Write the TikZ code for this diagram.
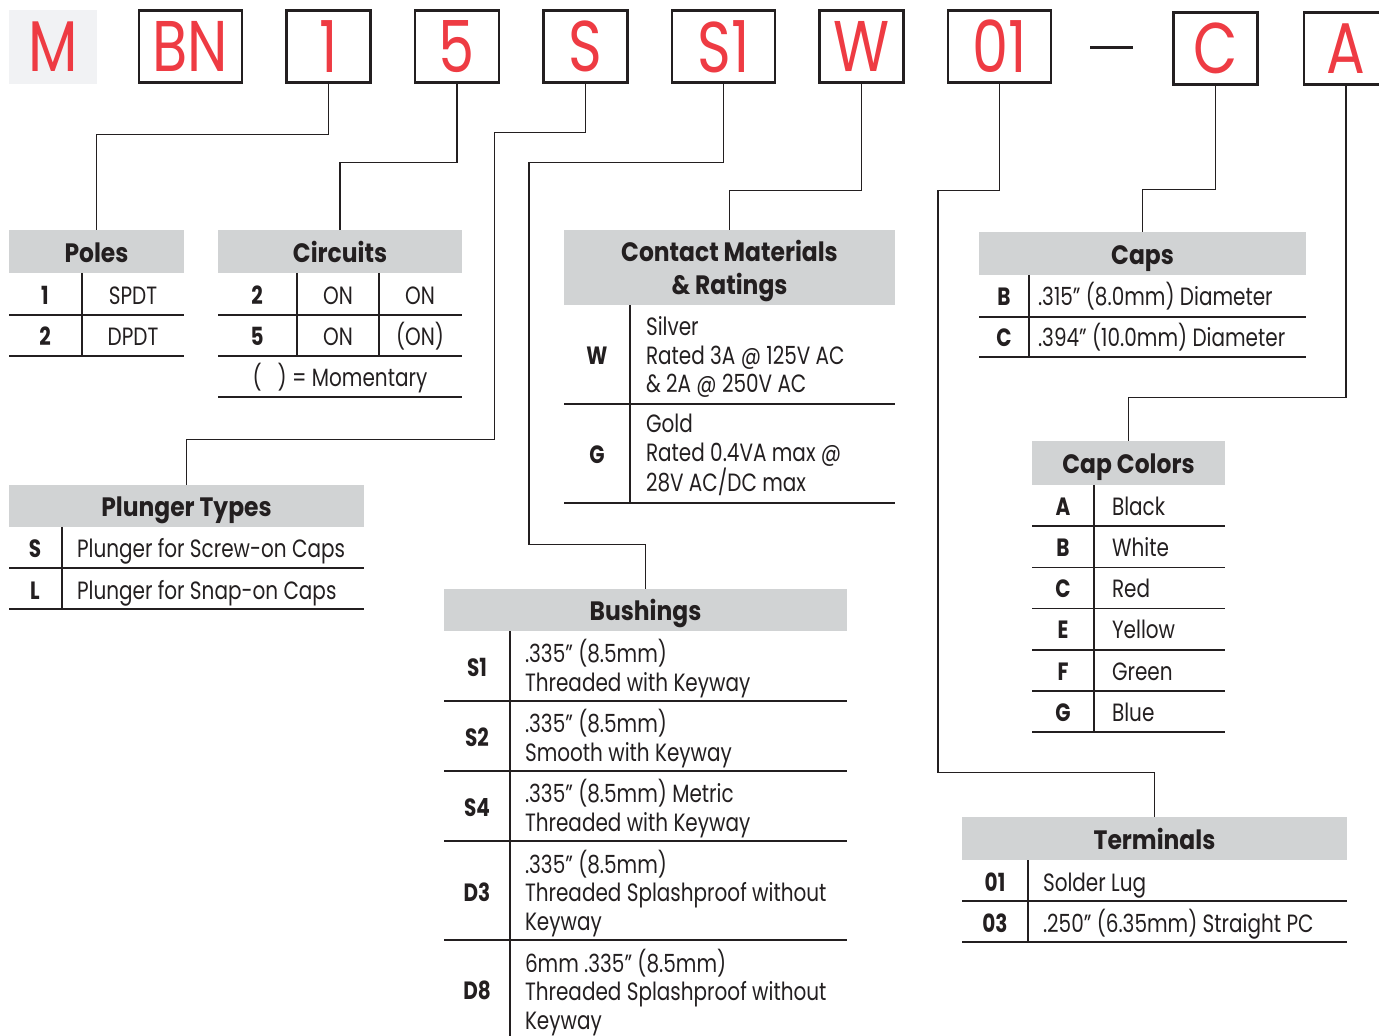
\documentclass[tikz,border=0pt]{standalone}
\usepackage{fontspec}
\setmainfont{Poppins}[FakeStretch=0.8]
\newfontfamily\headfont{Poppins}[FakeStretch=0.88]
\usetikzlibrary{positioning}
\definecolor{CodeRed}{RGB}{238,59,67}
\definecolor{HeadGray}{RGB}{209,211,212}
\definecolor{LightGray}{RGB}{241,242,244}
\definecolor{Ink}{RGB}{35,31,32}

\begin{document}
\begin{tikzpicture}[x=0.5pt, y=-0.5pt, Ink, text=Ink, line width=0.75pt,
       node distance=22.25pt,
       every node/.style={inner sep=0pt, outer sep=0pt},
       codebox/.style={draw=Ink, line width=1.3pt, minimum width=#1*0.5pt, minimum height=36pt,
                       text=CodeRed, font=\fontsize{35.9pt}{36pt}\selectfont},
       head/.style 2 args={fill=HeadGray, anchor=north west, minimum width=#1*0.5pt,
                           minimum height=#2*0.5pt, text height=10.6pt, text depth=0pt,
                           font=\headfont\bfseries\fontsize{13.3pt}{16.5pt}\selectfont},
       key/.style={anchor=base, font=\bfseries\fontsize{12.5pt}{14.25pt}\selectfont},
       mid/.style={anchor=base, font=\fontsize{12.5pt}{14.25pt}\selectfont},
       val/.style={anchor=base west, align=left, font=\fontsize{12.5pt}{14.25pt}\selectfont},
       rule/.style={line width=0.75pt}]
	\useasboundingbox (0,0) rectangle (1379,1036);

	%% Code boxes
	\node [fill=LightGray, minimum width=44pt, minimum height=37pt, text=CodeRed,
	       font=\fontsize{35.9pt}{36pt}\selectfont] (bM) at (53,47) {M};
	\node [codebox=103] (bBN) at (190.5,46.5) {BN};
	\node [codebox=84, right=of bBN] (b1) {1};
	\node [codebox=84, right=of b1] (b5) {5};
	\node [codebox=84, right=of b5] (bS) {S};
	\node [codebox=103, right=of bS] (bS1) {S1};
	\node [codebox=84, right=of bS1] (bW) {W};
	\node [codebox=103, right=of bW] (b01) {01};
	\draw [line width=1.5pt] (1090,48) -- (1133,48);
	\node [codebox=84] (bC) at (1215.5,48.5) {C};
	\node [codebox=84, right=23.25pt of bC] (bA) {A};

	%% Poles
	\node [head={175}{43}] (poles) at (9,230) {Poles};
	\draw [rule] (9,315) -- (184,315) (9,356) -- (184,356) (82,273) -- (82,356);
	\node [key] (pk1) at (45,305) {1};  \node [mid] (pv1) at (133,305) {SPDT};
	\node [key] (pk2) at (45,346) {2};  \node [mid] (pv2) at (133,346) {DPDT};

	%% Circuits
	\node [head={244}{43}] (circ) at (218,230) {Circuits};
	\draw [rule] (218,315) -- (462,315) (218,356) -- (462,356) (218,397) -- (462,397)
	             (297,273) -- (297,356) (379,273) -- (379,356);
	\node [key] (ck1) at (257,305) {2};  \node [mid] (ca1) at (338,305) {ON};  \node [mid] (cb1) at (420,305) {ON};
	\node [key] (ck2) at (257,346) {5};  \node [mid] (ca2) at (338,346) {ON};  \node [mid] (cb2) at (420,346) {(ON)};
	\node [mid] (cnote) at (340,387) {(\hspace{8pt}) = Momentary};

	%% Contact materials
	\node [head={331}{75}, text height={}, align=center] (contact) at (564,230) {Contact Materials\\\& Ratings};
	\draw [rule] (564,404) -- (895,404) (564,503) -- (895,503) (630,305) -- (630,503);
	\node [key] (mk1) at (597,365) {W};
	\node [val] (mv1) at (646,393) {Silver\\Rated 3A @ 125V AC\\\& 2A @ 250V AC};
	\node [key] (mk2) at (597,464) {G};
	\node [val] (mv2) at (646,492) {Gold\\Rated 0.4VA max @\\28V AC/DC max};

	%% Caps
	\node [head={327}{43}] (caps) at (979,232) {Caps};
	\draw [rule] (979,317) -- (1306,317) (979,357) -- (1306,357) (1029,275) -- (1029,357);
	\node [key] (sk1) at (1004,306) {B};  \node [val] (sv1) at (1038,306) {.315” (8.0mm) Diameter};
	\node [key] (sk2) at (1004,347) {C};  \node [val] (sv2) at (1038,347) {.394” (10.0mm) Diameter};

	%% Plunger types
	\node [head={355}{42}] (plunger) at (9,485) {Plunger Types};
	\draw [rule] (9,568) -- (364,568) (9,609) -- (364,609) (62,527) -- (62,609);
	\node [key] (lk1) at (35,558) {S};  \node [val] (lv1) at (77,558) {Plunger for Screw-on Caps};
	\node [key] (lk2) at (35,599) {L};  \node [val] (lv2) at (77,599) {Plunger for Snap-on Caps};

	%% Bushings
	\node [head={403}{42}] (bush) at (444,589) {Bushings};
	\draw [rule] (444,701) -- (847,701) (444,771) -- (847,771) (444,841) -- (847,841)
	             (444,940) -- (847,940) (510,631) -- (510,1036);
	\node [key] (uk1) at (477,676) {S1};
	\node [val] (uv1) at (525,691) {.335” (8.5mm)\\Threaded with Keyway};
	\node [key] (uk2) at (477,746) {S2};
	\node [val] (uv2) at (525,761) {.335” (8.5mm)\\Smooth with Keyway};
	\node [key] (uk3) at (477,816) {S4};
	\node [val] (uv3) at (525,831) {.335” (8.5mm) Metric\\Threaded with Keyway};
	\node [key] (uk4) at (477,901) {D3};
	\node [val] (uv4) at (525,930) {.335” (8.5mm)\\Threaded Splashproof without\\Keyway};
	\node [key] (uk5) at (477,999) {D8};
	\node [val] (uv5) at (525,1029) {6mm .335” (8.5mm)\\Threaded Splashproof without\\Keyway};

	%% Cap colors
	\node [head={193}{44}] (capcol) at (1032,441) {Cap Colors};
	\draw [rule] (1094,485) -- (1094,732);
	\foreach \k/\v [count=\i] in {A/Black,B/White,C/Red,E/Yellow,F/Green,G/Blue} {
		\node [key] (kk\i) at (1063,{474+41.2*\i}) {\k};
		\node [val] (kv\i) at (1112,{474+41.2*\i}) {\v};
		\draw [rule] (1032,{485+41.2*\i}) -- (1225,{485+41.2*\i});
	}

	%% Terminals
	\node [head={385}{43}] (term) at (962,817) {Terminals};
	\draw [rule] (962,901) -- (1347,901) (962,942) -- (1347,942) (1028,860) -- (1028,942);
	\node [key] (tk1) at (995,891) {01};  \node [val] (tv1) at (1043,891) {Solder Lug};
	\node [key] (tk2) at (995,932) {03};  \node [val] (tv2) at (1043,932) {.250” (6.35mm) Straight PC};

	%% Leader lines
	\draw (b1.south) -- ++(0,52) -| (poles.north);
	\draw (b5.south) -- ++(0,80) -| (circ.north);
	\draw (bS.south) -- ++(0,50) -- ++(-91,0) -- ++(0,307) -| (plunger.north);
	\draw (bS1.south) -- ++(0,80) -- ++(-194.5,0) -- ++(0,382) -| (bush.north);
	\draw (bW.south) -- ++(0,108) -| (contact.north);
	\draw (b01.south) -- ++(0,108) -- ++(-61.5,0) -- ++(0,582) -| (term.north);
	\draw (bC.south) -- ++(0,105) -| (caps.north);
	\draw (bA.south) -- ++(0,313) -| (capcol.north);
\end{tikzpicture}
\end{document}
